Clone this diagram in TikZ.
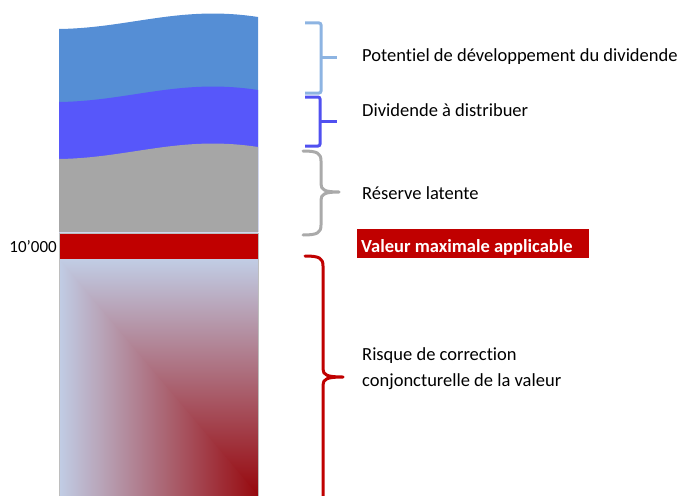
\documentclass[tikz,border=0pt]{standalone}
\usepackage{fontspec}
\setmainfont[Ligatures=NoCommon]{Carlito}
\definecolor{lblue}{RGB}{85,142,213}
\definecolor{mblue}{RGB}{87,87,250}
\definecolor{bargray}{RGB}{166,166,166}
\definecolor{barred}{RGB}{192,0,0}
\definecolor{edgegray}{RGB}{190,190,190}
\definecolor{gradlight}{RGB}{193,205,229}
\definecolor{graddark}{RGB}{150,5,10}
\definecolor{brlblue}{RGB}{141,180,226}
\definecolor{brblue}{RGB}{80,80,240}
\definecolor{brgray}{RGB}{170,170,170}
\tikzset{
  lbl/.style={anchor=base west, inner sep=0pt, font=\fontsize{18.5}{26}\selectfont, text=black},
  bracketline/.style={line width=3pt, rounded corners=2pt},
  braceline/.style={line width=3pt, line cap=round, line join=round},
}
\begin{document}
\begin{tikzpicture}[x=1pt,y=-1pt]
\useasboundingbox (0,0) rectangle (693,495);
% stacked wavy bands
\fill[lblue] (59,29) .. controls (130,28) and (180,5) .. (258,17) -- (258,232) -- (59,232) -- cycle;
\fill[mblue] (59,102) .. controls (130,101) and (180,78) .. (258,90) -- (258,232) -- (59,232) -- cycle;
\fill[bargray] (59,159) .. controls (130,158) and (180,135) .. (258,147) -- (258,232) -- (59,232) -- cycle;
% red bar
\node[fill=barred, draw=edgegray, line width=0.8pt, anchor=north west, inner sep=0pt,
      minimum width=199pt, minimum height=26pt] (maxbar) at (59,233) {};
% gradient block
\shade[top color=gradlight, bottom color=graddark] (59,259) rectangle (258,497);
\shade[left color=gradlight, right color=graddark] (59,259) -- (59,500) -- (262,500) -- cycle;
\draw[edgegray, line width=0.8pt] (59,259) -- (59,497) (258,259) -- (258,497);
% value label
\node[anchor=base east, inner sep=0pt, font=\fontsize{17}{20}\selectfont] (tenk) at (57,252.7) {10'000};
% brackets
\draw[brlblue, bracketline] (305,23) -- (321,23) -- (321,93) -- (305,93);
\draw[brlblue, line width=3pt] (321,58) -- (337,58);
\draw[brblue, bracketline] (305,97) -- (320,97) -- (320,146) -- (305,146);
\draw[brblue, line width=3pt] (320,121.5) -- (337,121.5);
% gray curly brace
\draw[brgray, braceline] (303,151) .. controls (317,151) and (321,153) .. (321,161) -- (321,184)
  .. controls (321,190) and (325,192) .. (339,192)
  .. controls (325,192) and (321,194) .. (321,200) -- (321,225)
  .. controls (321,233) and (317,235) .. (303,235);
% red curly brace
\draw[barred, braceline] (305,256) .. controls (319,256) and (323,258) .. (323,266) -- (323,369)
  .. controls (323,375) and (327,377) .. (343,377)
  .. controls (327,377) and (323,379) .. (323,385) -- (323,505);
% labels
\node[lbl] (t1) at (362,62) {Potentiel de développement du dividende};
\node[lbl] (t2) at (362,116.7) {Dividende à distribuer};
\node[lbl] (t3) at (362,199.5) {Réserve latente};
\node[fill=barred, anchor=north west, inner sep=0pt, minimum width=232pt, minimum height=28.5pt] (vbox) at (357,229) {};
\node[lbl, text=white, font=\fontsize{18.5}{26}\selectfont\bfseries] (vtxt) at (361,252.5) {Valeur maximale applicable};
\node[lbl] (t4) at (362,360.5) {Risque de correction};
\node[lbl] (t5) at (362,386) {conjoncturelle de la valeur};
\end{tikzpicture}
\end{document}
